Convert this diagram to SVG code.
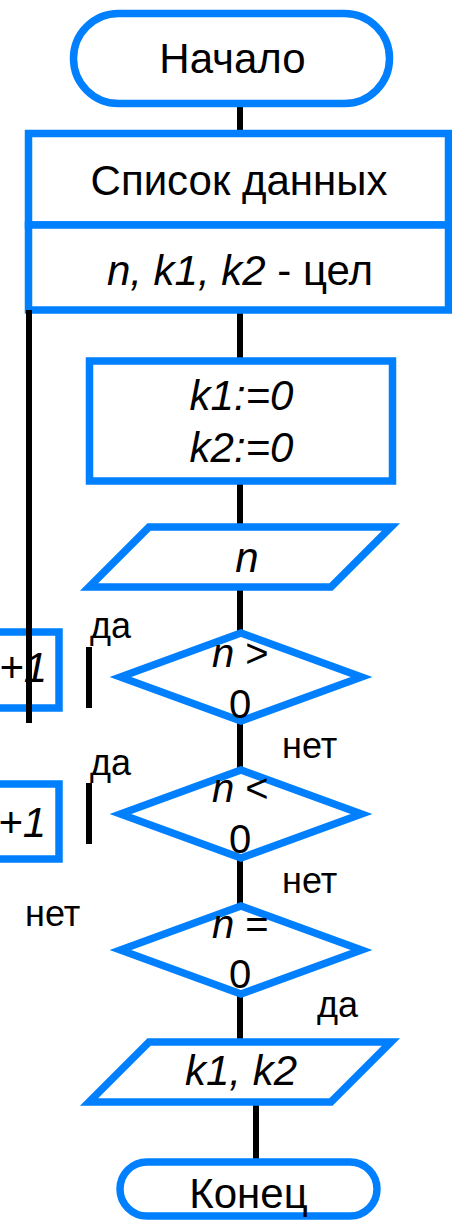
<svg xmlns="http://www.w3.org/2000/svg" width="452" height="1224" viewBox="0 0 452 1224">
<style>
.b{fill:#fff;stroke:#0080ff;stroke-width:7.5}
.c{fill:none;stroke:#000;stroke-width:6}
text{font-family:"Liberation Sans",Arial,sans-serif;fill:#000}
.t{font-size:42px}
.d{font-size:40px}
.l{font-size:36px}
.i{font-style:italic}
</style>
<rect width="452" height="1224" fill="#fff"/>
<g id="connectors">
<line class="c" x1="240" y1="104" x2="240" y2="134"/>
<line class="c" x1="240" y1="310" x2="240" y2="361"/>
<line class="c" x1="240" y1="481" x2="240" y2="527"/>
<line class="c" x1="240" y1="587" x2="240" y2="633"/>
<line class="c" x1="240" y1="721" x2="240" y2="770"/>
<line class="c" x1="240" y1="858" x2="240" y2="906"/>
<line class="c" x1="240" y1="994" x2="240" y2="1042"/>
<line class="c" x1="256" y1="1102" x2="256" y2="1162"/>
<line class="c" x1="89" y1="647" x2="89" y2="708"/>
<line class="c" x1="89" y1="783" x2="89" y2="844"/>
</g>
<g id="start">
<rect class="b" x="73.5" y="13.5" width="316" height="90" rx="45"/>
<text class="t" x="232.5" y="73" text-anchor="middle">Начало</text>
</g>
<g id="data-list">
<rect class="b" x="28.5" y="133.5" width="420" height="91.5"/>
<text class="t" x="239" y="195" text-anchor="middle">Список данных</text>
</g>
<g id="data-types">
<rect class="b" x="28.5" y="225" width="420" height="85"/>
<text class="t" x="240" y="285" text-anchor="middle"><tspan class="i">n, k1, k2</tspan> - цел</text>
</g>
<g id="box-k1-inc">
<rect class="b" x="-100" y="632" width="159" height="76"/>
<text class="t i" x="47" y="682" text-anchor="end">+1</text>
</g>
<g id="box-k2-inc">
<rect class="b" x="-100" y="784" width="159" height="75"/>
<text class="t i" x="46" y="837" text-anchor="end">+1</text>
</g>
<line class="c" x1="29" y1="310" x2="29" y2="723"/>
<g id="init">
<rect class="b" x="89.5" y="361" width="303" height="120"/>
<text class="t i" x="241.5" y="410" text-anchor="middle">k1:=0</text>
<text class="t i" x="241.5" y="462" text-anchor="middle">k2:=0</text>
</g>
<g id="input-n">
<polygon class="b" points="149,527 391,527 331,587 89,587"/>
<text class="t i" x="247" y="572" text-anchor="middle">n</text>
</g>
<g id="cond-gt">
<polygon class="b" points="241,633 361.5,677 241,721 120.5,677"/>
<text class="d" x="212" y="667"><tspan class="i">n</tspan> &gt;</text>
<text class="d" x="240" y="718" text-anchor="middle">0</text>
</g>
<g id="cond-lt">
<polygon class="b" points="241,770 361.5,814 241,858 120.5,814"/>
<text class="d" x="212" y="802"><tspan class="i">n</tspan> &lt;</text>
<text class="d" x="240" y="853" text-anchor="middle">0</text>
</g>
<g id="cond-eq">
<polygon class="b" points="241,906 361.5,950 241,994 120.5,950"/>
<text class="d" x="212" y="938"><tspan class="i">n</tspan> =</text>
<text class="d" x="240" y="988" text-anchor="middle">0</text>
</g>
<g id="output">
<polygon class="b" points="149,1042 391,1042 331,1102 89,1102"/>
<text class="t i" x="241" y="1085" text-anchor="middle">k1, k2</text>
</g>
<g id="end">
<rect class="b" x="120" y="1162" width="257" height="54" rx="27"/>
<text class="t" x="248.5" y="1208" text-anchor="middle">Конец</text>
</g>
<g id="labels">
<text class="l" x="90" y="638">да</text>
<text class="l" x="90" y="775">да</text>
<text class="l" x="282" y="758">нет</text>
<text class="l" x="282" y="893">нет</text>
<text class="l" x="25" y="926">нет</text>
<text class="l" x="317" y="1017">да</text>
</g>
</svg>
